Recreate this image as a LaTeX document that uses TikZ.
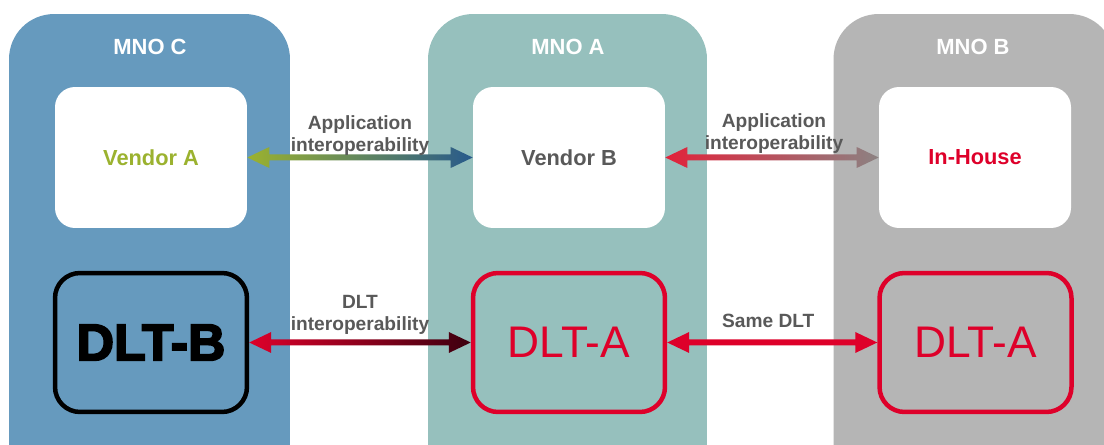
\documentclass[tikz,border=0pt]{standalone}
\usepackage{fontspec}
\setmainfont{Liberation Sans}
\newfontfamily\heavyfont[FakeBold=3.5]{Liberation Sans}
\usepackage{tikz}
\usetikzlibrary{calc,arrows.meta}

\definecolor{mnoCblue}{RGB}{102,154,190}
\definecolor{mnoAteal}{RGB}{150,192,189}
\definecolor{mnoBgrey}{RGB}{181,181,181}
\definecolor{dltred}{RGB}{222,0,42}
\definecolor{vendgreen}{RGB}{155,178,47}
\definecolor{linkblue}{RGB}{40,90,140}
\definecolor{linkgrey}{RGB}{140,130,130}
\definecolor{linkred}{RGB}{226,34,58}
\definecolor{darkred}{RGB}{60,0,15}
\definecolor{textgrey}{RGB}{89,89,89}

% double arrow with a colour fade: from, to, left colour, right colour
\newcommand\twoway[4]{%
  \shade[left color=#3,right color=#4]
    (#1) -- ++(22,-10.5) -- ++(0,7.5) -- ($(#2)+(-22,-3)$) -- ++(0,-7.5) -- (#2)
    -- ++(-22,10.5) -- ++(0,-7.5) -- ($(#1)+(22,3)$) -- ++(0,7.5) -- cycle;}

\begin{document}
\begin{tikzpicture}[x=0.02cm,y=-0.02cm,
    panel/.style={rectangle,rounded corners=0.9cm,minimum width=5.62cm,minimum height=10cm},
    title/.style={text=white,font=\fontsize{12.5pt}{14pt}\selectfont\bfseries},
    appbox/.style={rectangle,fill=white,rounded corners=0.4cm,minimum width=3.84cm,minimum height=2.82cm,
      font=\fontsize{12.4pt}{14pt}\selectfont\bfseries},
    dltbox/.style={rectangle,line width=0.09cm,rounded corners=0.5cm,minimum width=3.84cm,minimum height=2.78cm},
    linklabel/.style={text=textgrey,align=center,font=\fontsize{10.9pt}{12.6pt}\selectfont\bfseries}]
  \clip (0,0) rectangle (1104,445);
  \fill[white] (0,0) rectangle (1104,445);

  % operators
  \node[panel,fill=mnoCblue] (mnoC) at (149.5,264) {};
  \node[panel,fill=mnoAteal,minimum width=5.58cm] (mnoA) at (567.5,264) {};
  \node[panel,fill=mnoBgrey] (mnoB) at (974,264) {};
  \node[title] (titleC) at (150,47) {MNO C};
  \node[title] (titleA) at (568,47) {MNO A};
  \node[title] (titleB) at (973,47) {MNO B};

  % applications
  \node[appbox,text=vendgreen] (vendA)   at (151,157.5) {Vendor A};
  \node[appbox,text=textgrey]  (vendB)   at (569,157.5) {Vendor B};
  \node[appbox,text=dltred]    (inHouse) at (975,157.5) {In-House};

  % ledgers
  \node[dltbox,draw=black,font=\heavyfont\bfseries\fontsize{29.5pt}{32pt}\selectfont] (dltB) at (151,342.5) {DLT-B};
  \node[dltbox,draw=dltred,text=dltred,font=\fontsize{25.2pt}{28pt}\selectfont] (dltA) at (569,342.5) {DLT-A};
  \node[dltbox,draw=dltred,text=dltred,font=\fontsize{25.2pt}{28pt}\selectfont] (dltAB) at (975.5,342.5) {DLT-A};

  % links
  \twoway{vendA.east}{vendB.west}{vendgreen}{linkblue}
  \twoway{vendB.east}{inHouse.west}{linkred}{linkgrey}
  \twoway{dltB.east}{dltA.west}{dltred}{darkred}
  \twoway{dltA.east}{dltAB.west}{dltred}{dltred}

  \node[linklabel] (appAC) at ($(vendA.east)!0.5!(vendB.west)+(0,-22)$) {Application\\interoperability};
  \node[linklabel] (appAB) at ($(vendB.east)!0.5!(inHouse.west)+(2,-24)$) {Application\\interoperability};
  \node[linklabel] (dltAC) at ($(dltB.east)!0.5!(dltA.west)+(0,-28)$) {DLT\\interoperability};
  \node[linklabel] (dltAA) at ($(dltA.east)!0.5!(dltAB.west)+(-4,-22)$) {Same DLT};
\end{tikzpicture}
\end{document}
